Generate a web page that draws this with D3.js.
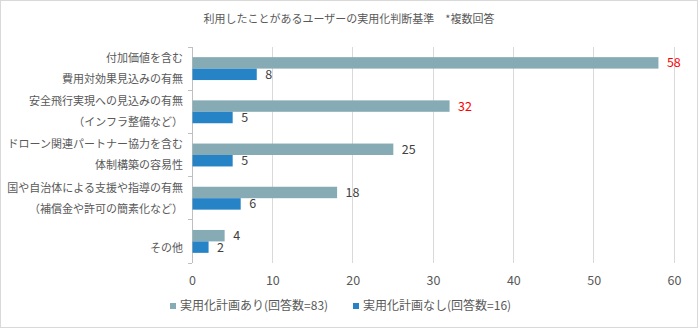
<!DOCTYPE html>
<html><head><meta charset="utf-8">
<script src="https://cdn.jsdelivr.net/npm/d3@7"></script>
<style>body{margin:0;background:#fff;}svg{display:block;font-family:"Noto Sans CJK JP","Noto Sans",sans-serif;}</style>
</head><body><svg id="c" width="698" height="328"></svg>
<script>
const title = "利用したことがあるユーザーの実用化判断基準　*複数回答";
const categories = [
  ["付加価値を含む","費用対効果見込みの有無"],
  ["安全飛行実現への見込みの有無","（インフラ整備など）"],
  ["ドローン関連パートナー協力を含む","体制構築の容易性"],
  ["国や自治体による支援や指導の有無","（補償金や許可の簡素化など）"],
  ["","その他"]
];
const seriesNames = ["実用化計画あり(回答数=83)","実用化計画なし(回答数=16)"];
const withPlan = [58,32,25,18,4];
const withoutPlan = [8,5,5,6,2];
const highlight = [true,true,false,false,false];
const xTicks = [0,10,20,30,40,50,60];
const colors = ["#86ABB5","#2683C6"];

const svg = d3.select("#c");
svg.append("rect").attr("x",0.5).attr("y",0.5).attr("width",697).attr("height",327)
  .attr("fill","#fff").attr("stroke","#d9d9d9");

const m = {left:192, right:674, top:47, bottom:263};
const x = d3.scaleLinear().domain([0,60]).range([m.left,m.right]);
const y = d3.scaleBand().domain(d3.range(categories.length)).range([m.top,m.bottom]).paddingInner(0.47).paddingOuter(0.235);

svg.append("text").attr("x",349).attr("y",23).attr("text-anchor","middle")
  .attr("font-size",11).attr("fill","#595959").text(title);

// gridlines
svg.append("g").selectAll("line").data(xTicks.slice(1)).join("line")
  .attr("x1",d=>x(d)).attr("x2",d=>x(d)).attr("y1",m.top).attr("y2",m.bottom)
  .attr("stroke","#d9d9d9").attr("stroke-width",1).attr("shape-rendering","crispEdges");

// x axis labels
const xa = svg.append("g").attr("transform",`translate(0,${m.bottom})`)
  .call(d3.axisBottom(x).tickValues(xTicks).tickSize(0).tickPadding(13));
xa.select(".domain").remove();
xa.selectAll("text").attr("font-size",12.5).attr("fill","#595959").attr("font-family","\"Noto Sans CJK JP\",sans-serif");

// category axis
const band = (m.bottom-m.top)/categories.length;
svg.append("line").attr("x1",m.left).attr("x2",m.left).attr("y1",m.top).attr("y2",m.bottom)
  .attr("stroke","#bfbfbf").attr("shape-rendering","crispEdges");
svg.append("g").selectAll("line").data(d3.range(categories.length+1)).join("line")
  .attr("x1",m.left-4).attr("x2",m.left).attr("y1",d=>m.top+d*band).attr("y2",d=>m.top+d*band)
  .attr("stroke","#bfbfbf").attr("shape-rendering","crispEdges");

const cg = svg.append("g").selectAll("g").data(categories).join("g");
cg.each(function(d,i){
  const c = m.top+(i+0.5)*band;
  const g = d3.select(this);
  const lines = d[0]==="" ? [[d[1],6.5]] : [[d[0],-10.5],[d[1],10.5]];
  lines.forEach(([t,o])=>{
    g.append("text").attr("x",183).attr("y",c+o).attr("dy","0.35em").attr("text-anchor","end")
      .attr("font-size",11).attr("fill","#595959").text(t);
  });
});

// bars
const bh = y.bandwidth()/2;
const series = [withPlan, withoutPlan];
series.forEach((vals,s)=>{
  const g = svg.append("g");
  g.selectAll("rect").data(vals).join("rect")
    .attr("x",x(0)+0.5).attr("y",(d,i)=>y(i)+s*bh).attr("width",d=>x(d)-x(0)).attr("height",bh)
    .attr("fill",colors[s]);
  g.selectAll("text").data(vals).join("text")
    .attr("x",d=>x(d)+9).attr("y",(d,i)=>y(i)+s*bh+bh/2).attr("dy","0.36em")
    .attr("font-size",12.5).attr("fill",(d,i)=>(s===0&&highlight[i])?"#FF0000":"#404040")
    .attr("font-family","\"Noto Sans CJK JP\",sans-serif")
    .text(d=>d);
});

// legend
const legX = [173,356];
seriesNames.forEach((n,i)=>{
  svg.append("rect").attr("x",legX[i]-3).attr("y",303).attr("width",6).attr("height",6).attr("fill",colors[i]);
  svg.append("text").attr("x",legX[i]+7).attr("y",306).attr("dy","0.35em")
    .attr("font-size",12).attr("fill","#595959").text(n);
});
</script></body></html>
